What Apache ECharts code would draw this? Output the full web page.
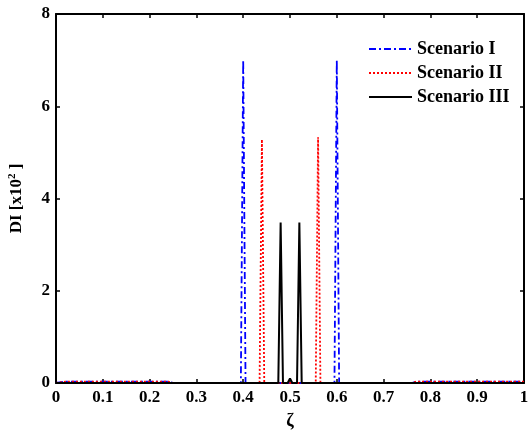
<!DOCTYPE html>
<html><head><meta charset="utf-8">
<script src="https://cdn.jsdelivr.net/npm/echarts@6/dist/echarts.min.js"></script>
<style>html,body{margin:0;padding:0;background:#fff}#c{width:529px;height:432px}</style>
</head><body><div id="c"></div>
<script>
// ζ positions and DI values [x10^2]
const zeta1 = [0, 0.02, 0.24, 0.25, 0.395, 0.4, 0.405, 0.595, 0.6, 0.605, 0.76, 0.77, 1.0];
const di1   = [0, 0.03, 0.03, 0,    0,     7.0, 0,     0,     7.0, 0,     0,    0.03, 0.03];
const zeta2 = [0, 0.02, 0.24, 0.25, 0.435, 0.44, 0.445, 0.555, 0.56, 0.565, 0.76, 0.77, 1.0];
const di2   = [0, 0.03, 0.03, 0,    0,     5.28, 0,     0,     5.33, 0,     0,    0.03, 0.03];
const zeta3 = [0, 0.475, 0.48, 0.485, 0.495, 0.5, 0.505, 0.515, 0.52, 0.525, 1.0];
const di3   = [0, 0,     3.48, 0,     0,     0.1, 0,     0,     3.48, 0,     0];
const seriesNames = ['Scenario I', 'Scenario II', 'Scenario III'];
const xTicks = [0, 0.1, 0.2, 0.3, 0.4, 0.5, 0.6, 0.7, 0.8, 0.9, 1];
const yTicks = [0, 2, 4, 6, 8];

const pairs = (xs, ys) => xs.map((x, i) => [x, ys[i]]);
const font = 'Liberation Serif';
const chart = echarts.init(document.getElementById('c'));
const axisCommon = {
  axisLine: {show: true, onZero: false, lineStyle: {color: '#000', width: 2}},
  axisTick: {show: true, inside: true, length: 4, lineStyle: {color: '#000', width: 1.5}},
  splitLine: {show: false}
};
chart.setOption({
  animation: false,
  grid: {left: 56, right: 5, top: 14, bottom: 49, containLabel: false, outerBoundsMode: 'none'},
  legend: {
    orient: 'vertical', left: 363, top: 35, itemWidth: 43, itemHeight: 10, itemGap: 6,
    itemStyle: {color: 'transparent', borderWidth: 0, opacity: 0},
    textStyle: {fontFamily: font, fontWeight: 'bold', fontSize: 18, color: '#000'},
    data: seriesNames
  },
  xAxis: [
    Object.assign({type: 'value', min: 0, max: 1, interval: 0.1, position: 'bottom',
      name: 'ζ', nameLocation: 'middle', nameGap: 29,
      nameTextStyle: {fontFamily: font, fontWeight: 'bold', fontSize: 18, color: '#000'},
      axisLabel: {fontFamily: font, fontWeight: 'bold', fontSize: 17, color: '#000', margin: 6,
        formatter: v => xTicks.includes(Math.round(v*10)/10) ? String(Math.round(v*10)/10) : ''}
    }, axisCommon),
    Object.assign({type: 'value', min: 0, max: 1, interval: 0.1, position: 'top', axisLabel: {show: false}}, axisCommon)
  ],
  yAxis: [
    Object.assign({type: 'value', min: 0, max: 8, interval: 2, position: 'left',
      name: '{a|DI [x10}{s|2}{a| ]}', nameLocation: 'middle', nameGap: 30,
      nameTextStyle: {rich: {
        a: {fontFamily: font, fontWeight: 'bold', fontSize: 17, color: '#000'},
        s: {fontFamily: font, fontWeight: 'bold', fontSize: 11, color: '#000', verticalAlign: 'bottom', padding: [0,0,8,0]}
      }},
      axisLabel: {fontFamily: font, fontWeight: 'bold', fontSize: 17, color: '#000', margin: 6,
        formatter: v => yTicks.includes(v) ? String(v) : ''}
    }, axisCommon),
    Object.assign({type: 'value', min: 0, max: 8, interval: 2, position: 'right', axisLabel: {show: false}}, axisCommon)
  ],
  series: [
    {name: seriesNames[0], type: 'line', symbol: 'none', data: pairs(zeta1, di1),
      lineStyle: {color: '#0000ff', width: 1.8, type: [7, 3, 2, 3]}, itemStyle: {color: '#0000ff'}},
    {name: seriesNames[1], type: 'line', symbol: 'none', data: pairs(zeta2, di2),
      lineStyle: {color: '#ff0000', width: 1.8, type: [2, 2]}, itemStyle: {color: '#ff0000'}},
    {name: seriesNames[2], type: 'line', symbol: 'none', data: pairs(zeta3, di3),
      lineStyle: {color: '#000', width: 2, type: 'solid'}, itemStyle: {color: '#000'}}
  ]
});
</script></body></html>
